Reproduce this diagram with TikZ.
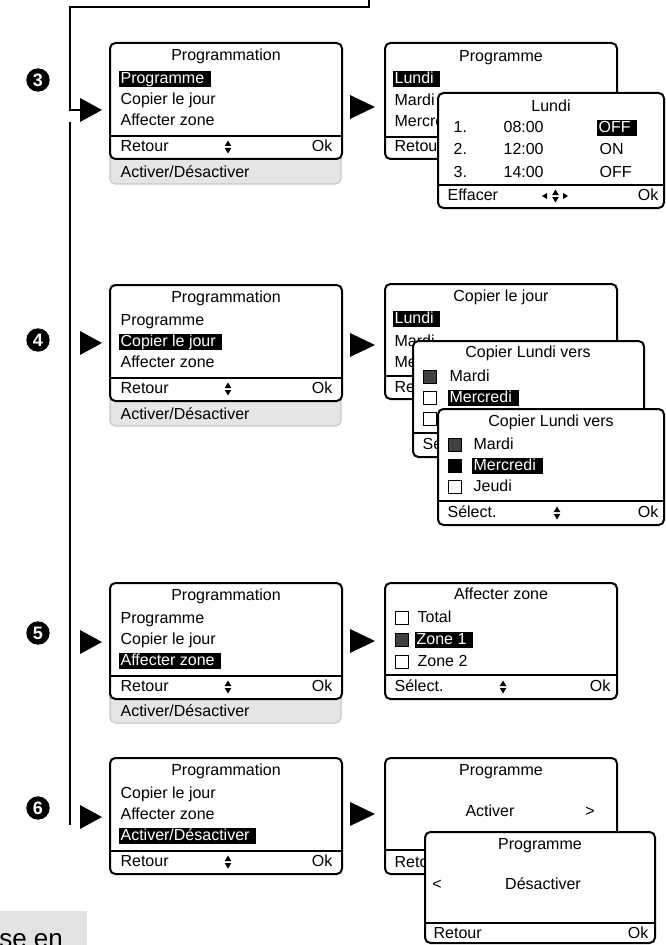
\documentclass[tikz,border=0pt]{standalone}
\usepackage{fontspec}
\setmainfont{Liberation Sans}

% small up/down marks of the screen footers
\newcommand{\updown}[2]{%
  \fill (#1-3.3,#2-1) -- (#1+3.3,#2-1) -- (#1,#2-6.5) -- cycle;
  \fill (#1-3.3,#2+1) -- (#1+3.3,#2+1) -- (#1,#2+6.5) -- cycle;}

\begin{document}
\begin{tikzpicture}[x=0.75pt, y=-0.75pt]
    % Define styles
    \tikzstyle{screen} = [draw=black, line width=1.5pt, rounded corners=4pt, fill=white]
    \tikzstyle{tab} = [draw=black!22, line width=0.8pt, rounded corners=4pt, fill=black!10]
    \tikzstyle{sepline} = [line width=1.5pt]
    \tikzstyle{txt} = [inner xsep=1pt, inner ysep=0pt, text height=9.5pt, text depth=2.5pt, font=\fontsize{12}{14}\selectfont]
    \tikzstyle{title} = [txt]
    \tikzstyle{item} = [txt, anchor=west]
    \tikzstyle{okay} = [txt, anchor=east]
    \tikzstyle{hl} = [item, fill=black, text=white, execute at end node=\hspace{4pt}]
    \tikzstyle{chk} = [draw=black, line width=0.8pt, minimum size=9.5pt, inner sep=0pt, anchor=west, fill=white]
    \tikzstyle{chkon} = [chk, fill=black!75]
    \tikzstyle{chkfull} = [chk, fill=black]
    \tikzstyle{num} = [circle, fill=black, text=white, inner sep=0pt, minimum size=17.5pt, font=\fontsize{13.5}{13.5}\selectfont\bfseries]
    \tikzstyle{flow} = [line width=1.5pt]

    \clip (0,0) rectangle (666,945);

    % Flow lines on the left
    \coordinate (top) at (369,0);
    \coordinate (a3) at (80,110);
    \draw[flow] (top) |- (70,7) |- (a3);
    \coordinate (v1) at (70,122);
    \coordinate (v2) at (70,825);
    \draw[flow] (v1) -- (v2);
    \foreach \y in {110,343,642,817}
        \fill (80,\y-12) -- (102,\y) -- (80,\y+12) -- cycle;
    \foreach \y in {107,345,641,814}
        \fill (350,\y-12) -- (375,\y) -- (350,\y+12) -- cycle;

    % Step numbers
    \node[num] (n3) at (38,80) {3};
    \node[num] (n4) at (38,340) {4};
    \node[num] (n5) at (38,633) {5};
    \node[num] (n6) at (38,808) {6};

    % Step 3 - menu
    \draw[tab] (110,140) rectangle (341,184);
    \draw[screen] (110,43) rectangle (342,159);
    \draw[sepline] (110,136) -- (342,136);
    \node[title] (p3t) at (226,56) {Programmation};
    \node[hl] (p3a) at (119,79) {Programme};
    \node[item] (p3b) at (119,100) {Copier le jour};
    \node[item] (p3c) at (119,121) {Affecter zone};
    \node[item] (p3l) at (119,147) {Retour};
    \updown{228}{147}
    \node[okay] (p3r) at (334,147) {Ok};
    \node[item] (p3g) at (119,173) {Activer/Désactiver};

    % Step 3 - programme
    \draw[screen] (385,43) rectangle (617,159);
    \draw[sepline] (385,137) -- (617,137);
    \node[title] (q3t) at (501,57) {Programme};
    \node[hl] (q3a) at (393,79) {Lundi};
    \node[item] (q3b) at (393,101) {Mardi};
    \node[item] (q3c) at (393,122) {Mercredi};
    \node[item] (q3l) at (393,147) {Retour};

    % Step 3 - Lundi
    \draw[screen] (438,93) rectangle (664,208);
    \draw[sepline] (438,185) -- (664,185);
    \node[title] (l3t) at (551,107) {Lundi};
    \node[item] (l3n1) at (452,128) {1.};
    \node[item] (l3h1) at (502,128) {08:00};
    \node[hl] (l3s1) at (597,128) {OFF};
    \node[item] (l3n2) at (452,150) {2.};
    \node[item] (l3h2) at (502,150) {12:00};
    \node[item] (l3s2) at (598,150) {ON};
    \node[item] (l3n3) at (452,173) {3.};
    \node[item] (l3h3) at (502,173) {14:00};
    \node[item] (l3s3) at (598,173) {OFF};
    \node[item] (l3l) at (446,196) {Effacer};
    \updown{555.5}{196}
    \fill (547,193) -- (542,196) -- (547,199) -- cycle;
    \fill (563,193) -- (568,196) -- (563,199) -- cycle;
    \node[okay] (l3r) at (660,196) {Ok};

    % Step 4 - menu
    \draw[tab] (110,382) rectangle (341,426);
    \draw[screen] (110,285) rectangle (342,401);
    \draw[sepline] (110,378) -- (342,378);
    \node[title] (p4t) at (226,298) {Programmation};
    \node[item] (p4a) at (119,321) {Programme};
    \node[hl] (p4b) at (119,342) {Copier le jour};
    \node[item] (p4c) at (119,363) {Affecter zone};
    \node[item] (p4l) at (119,389) {Retour};
    \updown{228}{389}
    \node[okay] (p4r) at (334,389) {Ok};
    \node[item] (p4g) at (119,415) {Activer/Désactiver};

    % Step 4 - copier le jour
    \draw[screen] (385,284) rectangle (617,399);
    \draw[sepline] (385,376) -- (617,376);
    \node[title] (q4t) at (501,297) {Copier le jour};
    \node[hl] (q4a) at (393,319) {Lundi};
    \node[item] (q4b) at (393,342) {Mardi};
    \node[item] (q4c) at (393,363) {Mercredi};
    \node[item] (q4l) at (393,388) {Retour};

    % Step 4 - copier Lundi vers (1)
    \draw[screen] (413,341) rectangle (644,457);
    \draw[sepline] (413,433) -- (644,433);
    \node[title] (c4t) at (528,353) {Copier Lundi vers};
    \node[chkon] (c4x1) at (423,377) {};
    \node[item] (c4a) at (448,377) {Mardi};
    \node[chk] (c4x2) at (423,398) {};
    \node[hl] (c4b) at (448,398) {Mercredi};
    \node[chk] (c4x3) at (423,419) {};
    \node[item] (c4l) at (421,445) {Sélect.};

    % Step 4 - copier Lundi vers (2)
    \draw[screen] (438,409) rectangle (664,525);
    \draw[sepline] (438,501) -- (664,501);
    \node[title] (d4t) at (551,422) {Copier Lundi vers};
    \node[chkon] (d4x1) at (448,445) {};
    \node[item] (d4a) at (472,445) {Mardi};
    \node[chkfull] (d4x2) at (448,466) {};
    \node[hl] (d4b) at (472,466) {Mercredi};
    \node[chk] (d4x3) at (448,487) {};
    \node[item] (d4c) at (472,487) {Jeudi};
    \node[item] (d4l) at (446,513) {Sélect.};
    \updown{557}{513}
    \node[okay] (d4r) at (660,513) {Ok};

    % Step 5 - menu
    \draw[tab] (110,680) rectangle (341,723);
    \draw[screen] (110,583) rectangle (342,699);
    \draw[sepline] (110,676) -- (342,676);
    \node[title] (p5t) at (226,596) {Programmation};
    \node[item] (p5a) at (119,619) {Programme};
    \node[item] (p5b) at (119,640) {Copier le jour};
    \node[hl] (p5c) at (119,661) {Affecter zone};
    \node[item] (p5l) at (119,687) {Retour};
    \updown{228}{687}
    \node[okay] (p5r) at (334,687) {Ok};
    \node[item] (p5g) at (119,712) {Activer/Désactiver};

    % Step 5 - affecter zone
    \draw[screen] (385,583) rectangle (617,699);
    \draw[sepline] (385,675) -- (617,675);
    \node[title] (q5t) at (501,595) {Affecter zone};
    \node[chk] (q5x1) at (395,618) {};
    \node[item] (q5a) at (416,618) {Total};
    \node[chkon] (q5x2) at (395,640) {};
    \node[hl] (q5b) at (415,640) {Zone 1};
    \node[chk] (q5x3) at (395,662) {};
    \node[item] (q5c) at (416,662) {Zone 2};
    \node[item] (q5l) at (393,687) {Sélect.};
    \updown{503}{687}
    \node[okay] (q5r) at (612,687) {Ok};

    % Step 6 - menu
    \draw[screen] (110,758) rectangle (342,874);
    \draw[sepline] (110,851) -- (342,851);
    \node[title] (p6t) at (226,771) {Programmation};
    \node[item] (p6a) at (119,794) {Copier le jour};
    \node[item] (p6b) at (119,815) {Affecter zone};
    \node[hl] (p6c) at (119,836) {Activer/Désactiver};
    \node[item] (p6l) at (119,862) {Retour};
    \updown{228}{862}
    \node[okay] (p6r) at (334,862) {Ok};

    % Step 6 - activer
    \draw[screen] (385,758) rectangle (617,874);
    \draw[sepline] (385,850) -- (617,850);
    \node[title] (q6t) at (501,771) {Programme};
    \node[title] (q6a) at (490,812) {Activer};
    \node[title] (q6n) at (590,812) {>};
    \node[item] (q6l) at (393,863) {Retour};

    % Step 6 - desactiver
    \draw[screen] (425,832) rectangle (655,943);
    \draw[sepline] (425,923) -- (655,923);
    \node[title] (d6t) at (540,845) {Programme};
    \node[title] (d6p) at (437,885) {<};
    \node[title] (d6a) at (543,885) {Désactiver};
    \node[item] (d6l) at (432,934) {Retour};
    \node[okay] (d6r) at (650,934) {Ok};

    % Cut-off note at the bottom
    \fill[black!11] (0,911) rectangle (87,945);
    \node[anchor=base west, inner sep=0pt, font=\fontsize{19.5}{20}\selectfont] (note) at (-1,947) {se en};
\end{tikzpicture}
\end{document}
